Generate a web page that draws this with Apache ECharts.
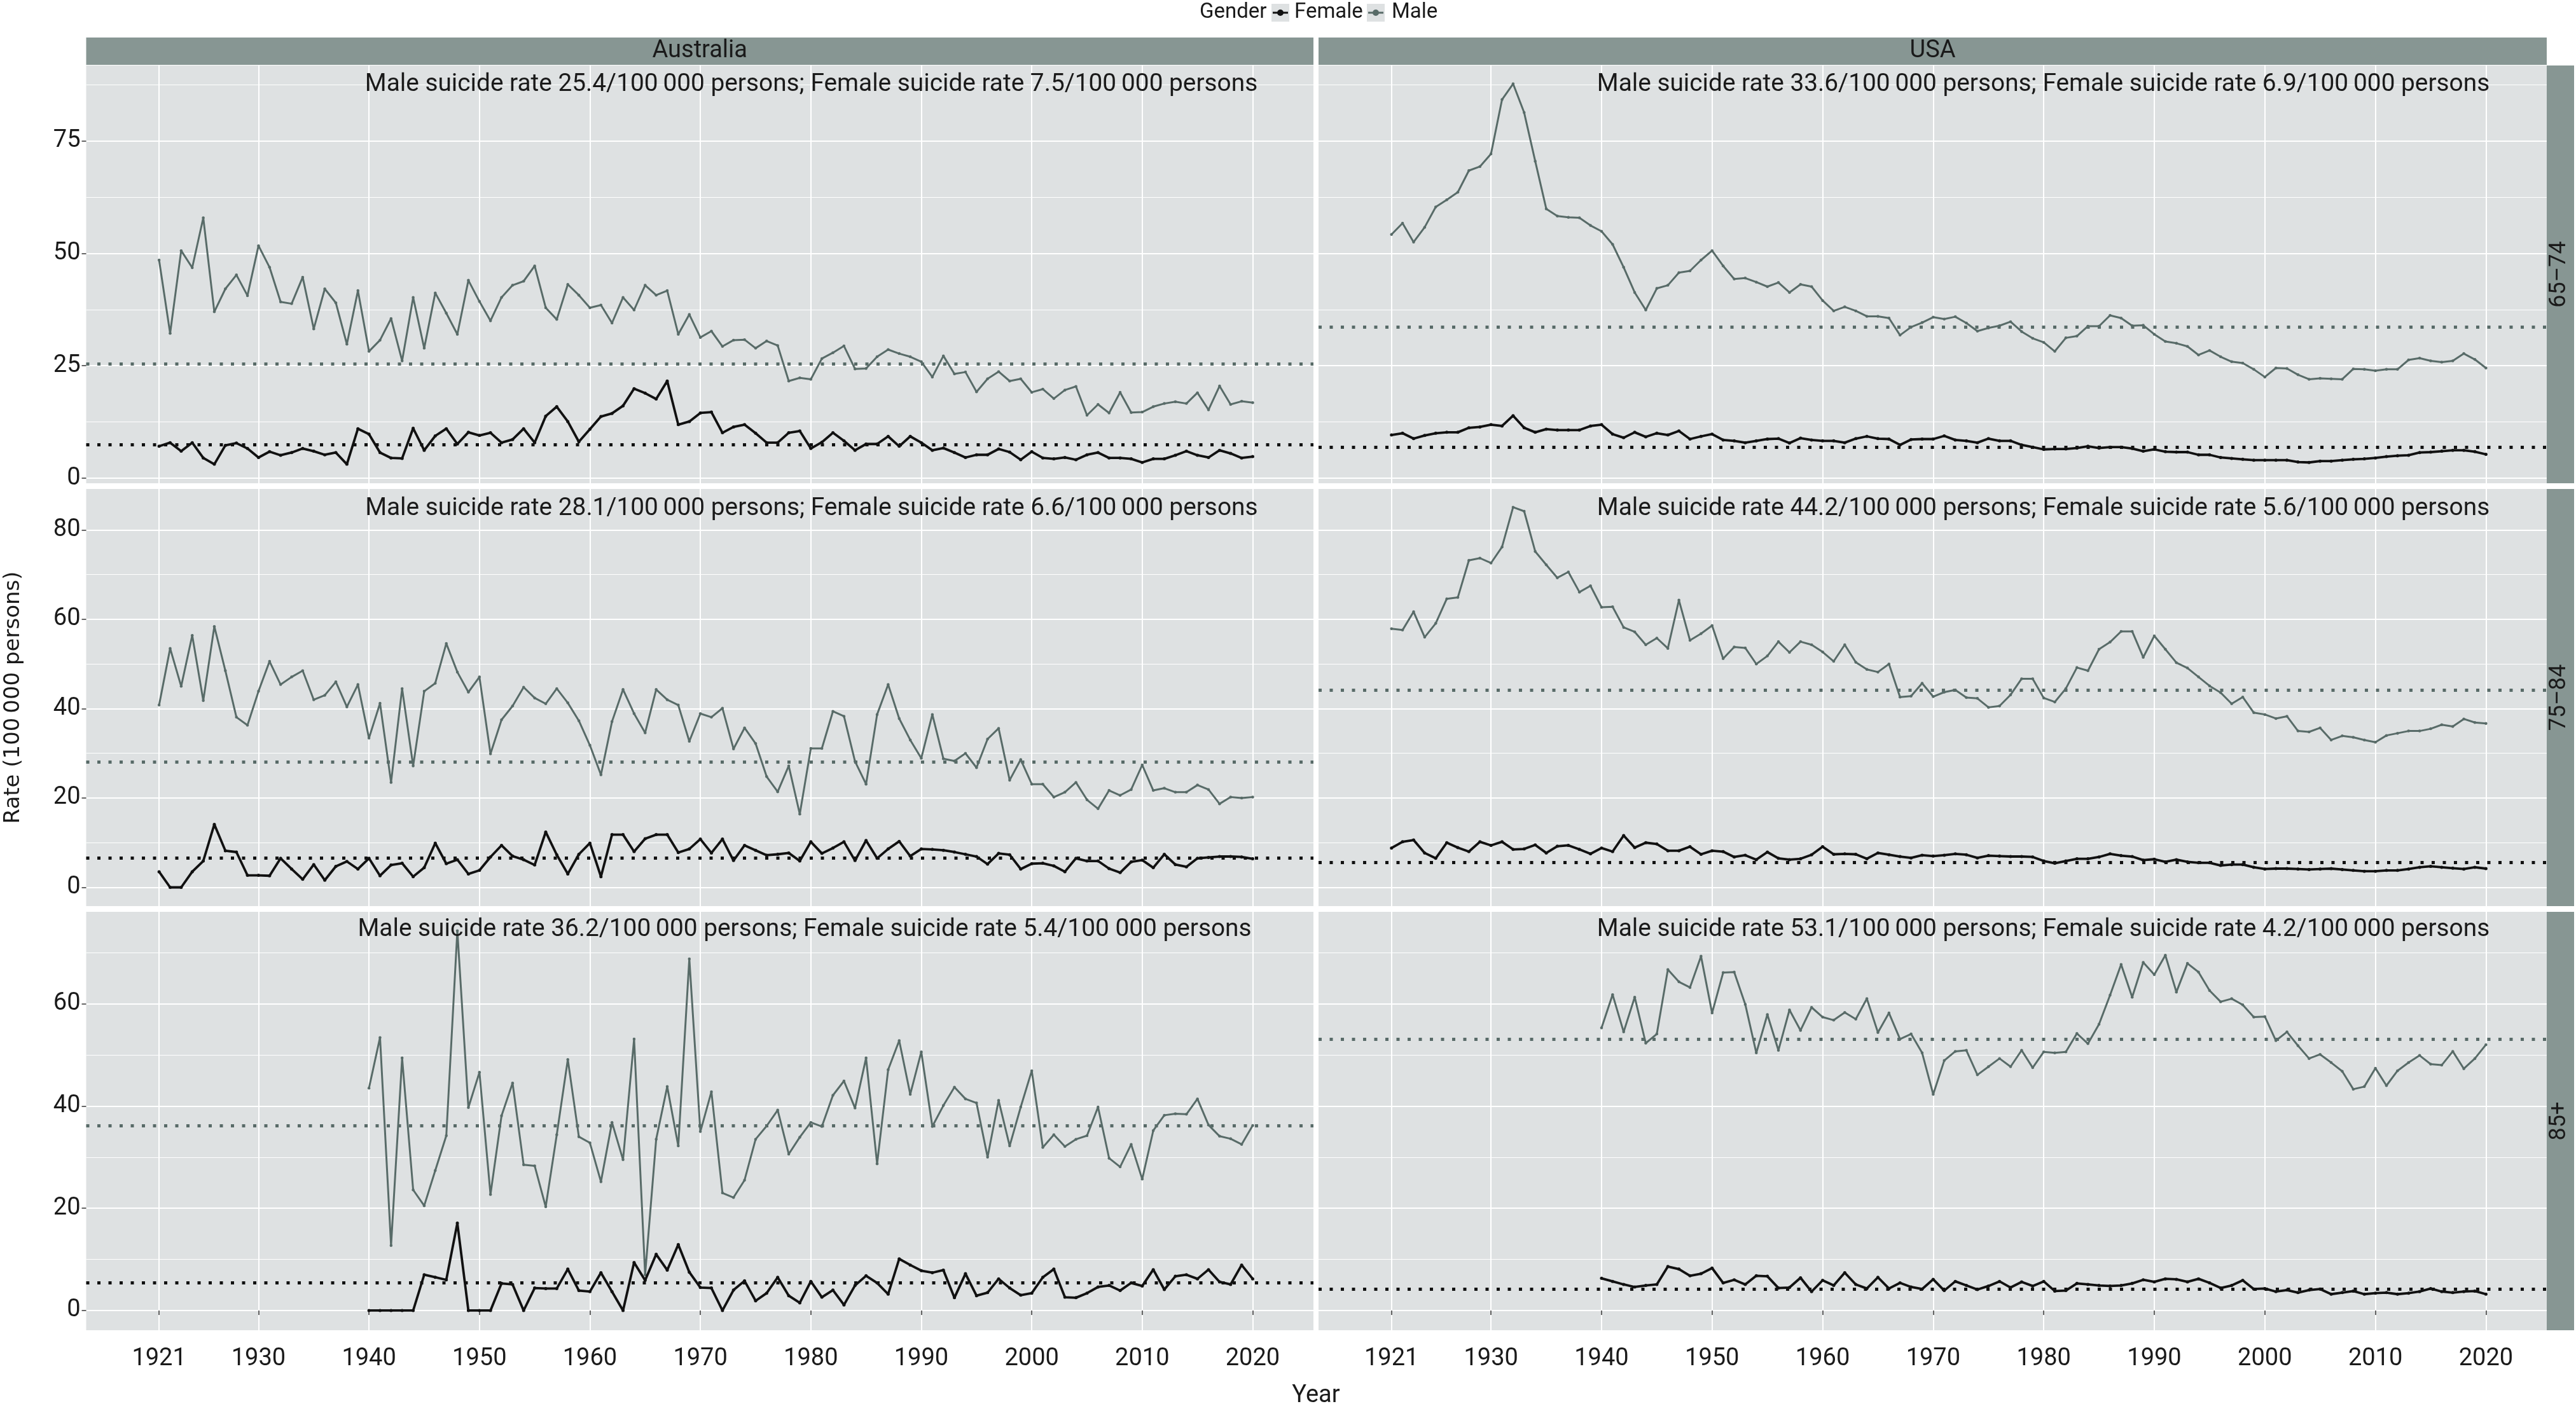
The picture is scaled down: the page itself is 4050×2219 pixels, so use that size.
<!DOCTYPE html>
<html>
<head>
<meta charset="utf-8">
<title>Suicide rates in older adults, Australia and USA</title>
<script src="https://cdn.jsdelivr.net/npm/echarts@6/dist/echarts.min.js"></script>
<style>
  html, body { margin: 0; padding: 0; background: #fff; }
  #chart { width: 4050px; height: 2219px; }
</style>
</head>
<body>
<div id="chart"></div>
<script>
// ---- data: suicide rate per 100 000 persons ----
const countries = ['Australia', 'USA'];
const ageGroups = ['65–74', '75–84', '85+'];
const xTicks = [1921, 1930, 1940, 1950, 1960, 1970, 1980, 1990, 2000, 2010, 2020];
const yTicks = [[0, 25, 50, 75], [0, 20, 40, 60, 80], [0, 20, 40, 60]];
const yMinorTicks = [[12.5, 37.5, 62.5, 87.5], [10, 30, 50, 70], [10, 30, 50, 70]];
const startYear = [1921, 1921, 1940]; // first year of each age row

// 65–74 (1921–2020)
const aus6574Male = [48.5, 32.2, 50.6, 46.8, 57.9, 37.0, 42.1, 45.2, 40.6, 51.7,
  46.9, 39.2, 38.8, 44.7, 33.2, 42.1, 39.0, 29.8, 41.7, 28.2,
  30.7, 35.5, 26.1, 40.2, 28.9, 41.2, 36.7, 32.0, 44.0, 39.3,
  35.0, 40.2, 42.9, 43.8, 47.2, 37.9, 35.3, 43.1, 40.7, 37.9,
  38.5, 34.5, 40.2, 37.4, 42.9, 40.7, 41.7, 32.0, 36.4, 31.3,
  32.7, 29.3, 30.7, 30.8, 28.9, 30.5, 29.5, 21.6, 22.3, 22.0,
  26.6, 27.9, 29.4, 24.3, 24.4, 27.0, 28.6, 27.7, 27.0, 25.9,
  22.5, 27.2, 23.2, 23.6, 19.2, 22.1, 23.7, 21.6, 22.1, 19.1,
  19.8, 17.7, 19.6, 20.4, 14.0, 16.4, 14.5, 19.1, 14.6, 14.7,
  15.9, 16.6, 17.0, 16.6, 19.0, 15.2, 20.5, 16.4, 17.1, 16.8];
const aus6574Female = [7.1, 7.9, 6.0, 7.9, 4.5, 3.1, 7.3, 7.8, 6.6, 4.6,
  5.9, 5.1, 5.7, 6.6, 6.0, 5.2, 5.7, 3.1, 11.0, 9.8,
  5.7, 4.5, 4.4, 11.1, 6.2, 9.4, 11.0, 7.6, 10.2, 9.5,
  10.1, 7.9, 8.6, 11.0, 7.9, 13.8, 15.9, 12.6, 8.1, 10.9,
  13.7, 14.4, 16.1, 19.9, 18.9, 17.6, 21.6, 11.9, 12.6, 14.5,
  14.7, 10.1, 11.4, 11.9, 10.0, 7.9, 7.9, 10.1, 10.5, 6.6,
  8.0, 10.1, 8.3, 6.2, 7.6, 7.6, 9.3, 7.1, 9.3, 7.9,
  6.2, 6.7, 5.7, 4.6, 5.2, 5.2, 6.5, 5.8, 4.1, 5.9,
  4.5, 4.3, 4.6, 4.1, 5.2, 5.7, 4.5, 4.5, 4.3, 3.5,
  4.3, 4.3, 5.1, 6.0, 5.1, 4.6, 6.2, 5.5, 4.5, 4.8];
const usa6574Male = [54.2, 56.7, 52.5, 55.8, 60.3, 61.9, 63.6, 68.4, 69.3, 72.1,
  84.2, 87.7, 81.3, 70.5, 59.9, 58.3, 58.0, 57.9, 56.2, 54.9,
  52.0, 46.9, 41.3, 37.4, 42.2, 42.9, 45.7, 46.1, 48.5, 50.6,
  47.2, 44.3, 44.5, 43.6, 42.6, 43.5, 41.3, 43.1, 42.6, 39.5,
  37.2, 38.1, 37.2, 36.0, 36.0, 35.6, 31.8, 33.6, 34.6, 35.8,
  35.4, 35.9, 34.5, 32.7, 33.4, 33.9, 34.8, 32.6, 31.1, 30.2,
  28.2, 31.2, 31.6, 33.8, 33.8, 36.2, 35.6, 33.9, 34.0, 32.0,
  30.4, 30.0, 29.3, 27.4, 28.4, 27.0, 25.9, 25.6, 24.2, 22.5,
  24.5, 24.4, 23.0, 22.0, 22.2, 22.1, 22.0, 24.3, 24.2, 23.9,
  24.2, 24.2, 26.3, 26.7, 26.1, 25.8, 26.1, 27.7, 26.4, 24.5];
const usa6574Female = [9.6, 10.0, 8.8, 9.5, 10.0, 10.2, 10.2, 11.2, 11.4, 11.9,
  11.6, 13.9, 11.2, 10.2, 10.9, 10.7, 10.7, 10.7, 11.6, 11.9,
  9.8, 9.0, 10.2, 9.2, 10.0, 9.6, 10.5, 8.7, 9.3, 9.8,
  8.5, 8.3, 7.9, 8.3, 8.7, 8.8, 7.8, 8.9, 8.5, 8.3,
  8.3, 7.9, 8.8, 9.3, 8.8, 8.7, 7.4, 8.6, 8.7, 8.7,
  9.4, 8.5, 8.3, 7.9, 8.8, 8.3, 8.3, 7.4, 6.9, 6.4,
  6.5, 6.5, 6.7, 7.1, 6.7, 6.9, 6.9, 6.6, 6.0, 6.4,
  5.9, 5.8, 5.8, 5.2, 5.2, 4.6, 4.4, 4.2, 4.0, 4.0,
  4.0, 4.0, 3.6, 3.5, 3.8, 3.8, 4.0, 4.2, 4.3, 4.5,
  4.8, 5.0, 5.1, 5.7, 5.8, 6.0, 6.2, 6.2, 5.9, 5.3];

// 75–84 (1921–2020)
const aus7584Male = [40.8, 53.5, 45.0, 56.4, 41.8, 58.4, 48.5, 38.1, 36.3, 43.9,
  50.6, 45.4, 47.1, 48.5, 42.0, 43.0, 46.0, 40.4, 45.4, 33.4,
  41.2, 23.5, 44.5, 27.2, 43.9, 45.7, 54.6, 48.2, 43.7, 47.1,
  29.9, 37.5, 40.6, 44.8, 42.4, 41.1, 44.5, 41.3, 37.3, 31.8,
  25.2, 37.1, 44.3, 38.9, 34.6, 44.3, 42.0, 40.8, 32.7, 38.9,
  38.1, 40.1, 31.0, 35.7, 32.2, 24.8, 21.4, 27.2, 16.4, 31.1,
  31.1, 39.4, 38.3, 28.2, 23.1, 38.7, 45.4, 37.8, 33.0, 28.9,
  38.7, 28.8, 28.3, 30.0, 26.8, 33.2, 35.6, 24.0, 28.6, 23.1,
  23.1, 20.2, 21.3, 23.5, 19.6, 17.6, 21.7, 20.6, 21.9, 27.4,
  21.7, 22.2, 21.3, 21.3, 22.9, 21.9, 18.7, 20.2, 20.0, 20.2];
const aus7584Female = [3.5, 0.0, 0.0, 3.5, 5.9, 14.1, 8.2, 7.9, 2.7, 2.7,
  2.6, 6.5, 4.1, 1.8, 5.1, 1.6, 4.7, 5.8, 4.1, 6.5,
  2.6, 5.0, 5.4, 2.4, 4.4, 9.9, 5.3, 6.2, 3.0, 3.8,
  6.8, 9.4, 7.0, 6.2, 5.0, 12.4, 7.3, 3.0, 7.4, 9.9,
  2.4, 11.8, 11.8, 8.0, 10.9, 11.8, 11.8, 7.8, 8.6, 10.8,
  7.7, 10.8, 6.0, 9.4, 8.3, 7.2, 7.4, 7.7, 5.9, 10.2,
  7.6, 8.8, 10.2, 6.0, 10.5, 6.5, 8.6, 10.3, 7.0, 8.6,
  8.5, 8.3, 7.9, 7.4, 6.9, 5.2, 7.6, 7.3, 4.1, 5.3,
  5.4, 4.8, 3.5, 6.5, 5.9, 5.9, 4.2, 3.3, 5.7, 6.1,
  4.4, 7.4, 5.1, 4.6, 6.5, 6.7, 6.9, 6.9, 6.8, 6.4];
const usa7584Male = [57.9, 57.6, 61.7, 56.0, 59.1, 64.6, 64.9, 73.2, 73.7, 72.6,
  76.2, 85.1, 84.2, 75.2, 72.2, 69.3, 70.6, 66.1, 67.5, 62.7,
  62.8, 58.2, 57.2, 54.3, 55.8, 53.5, 64.3, 55.3, 56.8, 58.6,
  51.2, 53.8, 53.6, 50.0, 51.8, 55.0, 52.6, 55.0, 54.3, 52.7,
  50.6, 54.3, 50.4, 48.8, 48.2, 50.0, 42.6, 42.8, 45.7, 42.7,
  43.7, 44.2, 42.5, 42.3, 40.3, 40.6, 43.1, 46.7, 46.7, 42.4,
  41.5, 44.5, 49.2, 48.5, 53.3, 54.9, 57.3, 57.3, 51.5, 56.3,
  53.3, 50.3, 49.1, 47.1, 45.1, 43.6, 41.1, 42.6, 39.1, 38.7,
  37.8, 38.3, 35.0, 34.8, 35.7, 33.0, 33.9, 33.6, 33.0, 32.5,
  34.0, 34.5, 35.0, 35.0, 35.5, 36.4, 36.0, 37.7, 36.9, 36.7];
const usa7584Female = [8.8, 10.2, 10.6, 7.7, 6.5, 10.0, 8.9, 8.0, 10.2, 9.4,
  10.2, 8.5, 8.6, 9.5, 7.7, 9.2, 9.4, 8.5, 7.5, 8.8,
  8.0, 11.6, 8.9, 10.0, 9.7, 8.2, 8.2, 9.1, 7.4, 8.2,
  8.0, 6.8, 7.2, 6.2, 7.9, 6.5, 6.2, 6.4, 7.3, 9.1,
  7.4, 7.5, 7.4, 6.4, 7.7, 7.3, 6.9, 6.6, 7.2, 7.0,
  7.2, 7.5, 7.3, 6.6, 7.1, 7.0, 6.9, 6.9, 6.8, 5.9,
  5.4, 5.9, 6.4, 6.4, 6.8, 7.5, 7.1, 6.9, 6.1, 6.3,
  5.7, 6.2, 5.7, 5.5, 5.5, 4.9, 5.1, 5.1, 4.5, 4.1,
  4.2, 4.2, 4.1, 4.0, 4.1, 4.2, 4.0, 3.8, 3.6, 3.6,
  3.8, 3.8, 4.1, 4.5, 4.7, 4.5, 4.3, 4.1, 4.5, 4.2];

// 85+ (1940–2020)
const aus85Male = [43.5, 53.4, 12.7, 49.4, 23.6, 20.5, 27.4, 34.2, 74.3, 39.7,
  46.6, 22.7, 38.1, 44.5, 28.5, 28.3, 20.3, 34.4, 49.1, 34.0,
  32.8, 25.2, 36.8, 29.5, 53.1, 7.0, 33.5, 43.8, 32.2, 68.8,
  35.0, 42.8, 23.0, 22.1, 25.5, 33.5, 36.1, 39.2, 30.6, 33.9,
  36.8, 36.0, 42.1, 44.9, 39.6, 49.4, 28.7, 47.1, 52.8, 42.3,
  50.6, 36.0, 40.1, 43.7, 41.4, 40.6, 30.0, 41.1, 32.2, 39.8,
  46.9, 31.9, 34.4, 32.1, 33.5, 34.2, 39.8, 29.8, 28.1, 32.5,
  25.7, 35.2, 38.2, 38.5, 38.4, 41.4, 36.3, 34.1, 33.6, 32.5, 36.2];
const aus85Female = [0, 0, 0, 0, 0, 7.0, 6.5, 6.0, 17.1, 0,
  0, 0, 5.3, 5.1, 0, 4.4, 4.3, 4.3, 8.1, 3.9,
  3.7, 7.4, 3.7, 0, 9.4, 5.9, 11.0, 7.9, 12.9, 7.5,
  4.5, 4.4, 0, 4.0, 5.8, 1.9, 3.4, 6.5, 2.9, 1.5,
  5.7, 2.6, 4.0, 1.1, 4.9, 6.8, 5.4, 3.2, 10.1, 8.9,
  7.8, 7.4, 7.9, 2.5, 7.2, 2.9, 3.5, 6.2, 4.4, 3.0,
  3.4, 6.5, 8.1, 2.6, 2.5, 3.4, 4.6, 4.9, 3.9, 5.4,
  4.8, 8.0, 4.1, 6.7, 7.0, 6.2, 8.0, 5.6, 5.1, 8.9, 6.2];
const usa85Male = [55.3, 61.8, 54.5, 61.3, 52.3, 54.1, 66.7, 64.3, 63.2, 69.3,
  58.2, 66.1, 66.2, 59.9, 50.4, 57.9, 50.9, 58.8, 54.8, 59.3,
  57.4, 56.8, 58.3, 57.0, 61.0, 54.4, 58.2, 53.1, 54.1, 50.4,
  42.3, 48.9, 50.7, 50.9, 46.1, 47.7, 49.3, 47.7, 50.9, 47.5,
  50.6, 50.4, 50.6, 54.2, 52.2, 56.0, 61.7, 67.7, 61.3, 68.1,
  65.7, 69.5, 62.3, 67.9, 66.2, 62.6, 60.4, 61.0, 59.8, 57.4,
  57.5, 52.8, 54.5, 51.8, 49.3, 50.1, 48.5, 46.8, 43.3, 43.8,
  47.4, 44.0, 46.9, 48.5, 49.9, 48.2, 48.0, 50.7, 47.3, 49.3, 52.0];
const usa85Female = [6.3, 5.7, 5.1, 4.6, 4.9, 5.1, 8.6, 8.1, 6.8, 7.2,
  8.3, 5.4, 6.0, 5.1, 6.8, 6.7, 4.4, 4.5, 6.4, 3.7,
  5.9, 4.9, 7.4, 5.1, 4.3, 6.5, 4.3, 5.4, 4.6, 4.2,
  6.1, 3.9, 5.7, 4.9, 4.1, 4.8, 5.7, 4.5, 5.6, 4.8,
  5.7, 3.8, 3.9, 5.3, 5.1, 4.9, 4.8, 4.9, 5.3, 6.0,
  5.6, 6.2, 6.1, 5.6, 6.2, 5.4, 4.4, 4.9, 5.9, 4.2,
  4.3, 3.7, 4.0, 3.5, 4.0, 4.2, 3.2, 3.5, 3.8, 3.2,
  3.4, 3.5, 3.2, 3.4, 3.7, 4.3, 3.7, 3.5, 3.7, 3.8, 3.2];

// mean rates (dotted lines), panel order: row by row, Australia then USA
const maleMeans = [25.4, 33.6, 28.1, 44.2, 36.2, 53.1];
const femaleMeans = [7.5, 6.9, 6.6, 5.6, 5.4, 4.2];
const notes = [
  'Male suicide rate 25.4/100\u2009000 persons; Female suicide rate 7.5/100\u2009000 persons',
  'Male suicide rate 33.6/100\u2009000 persons; Female suicide rate 6.9/100\u2009000 persons',
  'Male suicide rate 28.1/100\u2009000 persons; Female suicide rate 6.6/100\u2009000 persons',
  'Male suicide rate 44.2/100\u2009000 persons; Female suicide rate 5.6/100\u2009000 persons',
  'Male suicide rate 36.2/100\u2009000 persons; Female suicide rate 5.4/100 000 persons',
  'Male suicide rate 53.1/100\u2009000 persons; Female suicide rate 4.2/100\u2009000 persons'
];

const maleData = [aus6574Male, usa6574Male, aus7584Male, usa7584Male, aus85Male, usa85Male];
const femaleData = [aus6574Female, usa6574Female, aus7584Female, usa7584Female, aus85Female, usa85Female];

// ---- layout / style ----
const FONT = 'Roboto';
const TEXT = '#1a1a1a';
const STRIP = '#879693';
const PANEL = '#dee1e2';
const MALE = '#586b68';
const FEMALE = '#111111';

const colLeft = [135.5, 2073];
const colWidth = [1929.5, 1931];
const rowTop = [103, 769, 1434];
const rowHeight = [657, 656, 658];
const yMin = [-1.13, -4.2, -3.86];
const yMax = [91.77, 89.18, 77.99];
const xMin = 1914.4, xMax = 2025.5;
const noteX = [[1275.5, 3212.5], [1275.8, 3212.5], [1265, 3212.5]];
const noteY = [133, 800, 1462];

const toPairs = (arr, start) => arr.map((v, i) => [start + i, v]);

const grids = [], xAxes = [], yAxes = [], series = [], graphics = [];

for (let r = 0; r < 3; r++) {
  for (let c = 0; c < 2; c++) {
    const k = r * 2 + c;
    grids.push({
      left: colLeft[c], top: rowTop[r], width: colWidth[c], height: rowHeight[r],
      show: true, backgroundColor: PANEL, borderWidth: 0,
      containLabel: false, outerBoundsMode: 'none'
    });
    xAxes.push({
      gridIndex: k, type: 'value', min: xMin, max: xMax,
      axisLine: { show: false },
      axisTick: { show: r === 2, customValues: xTicks, length: 7, lineStyle: { color: '#333', width: 1.5 } },
      axisLabel: {
        show: r === 2, customValues: xTicks, margin: 26,
        fontFamily: FONT, fontSize: 38, color: TEXT,
        formatter: v => String(v)
      },
      splitLine: { show: true, customValues: xTicks, lineStyle: { color: '#ffffff', width: 2 } }
    });
    // major y axis
    yAxes.push({
      gridIndex: k, type: 'value', min: yMin[r], max: yMax[r], position: 'left',
      axisLine: { show: false },
      axisTick: { show: c === 0, customValues: yTicks[r], length: 7, lineStyle: { color: '#333', width: 1.5 } },
      axisLabel: {
        show: c === 0, customValues: yTicks[r], margin: 9,
        fontFamily: FONT, fontSize: 38, color: TEXT,
        formatter: v => String(v)
      },
      splitLine: { show: true, customValues: yTicks[r], lineStyle: { color: '#ffffff', width: 2.2 } }
    });
    // minor grid lines
    yAxes.push({
      gridIndex: k, type: 'value', min: yMin[r], max: yMax[r], position: 'right',
      axisLine: { show: false },
      axisTick: { show: false, customValues: yMinorTicks[r] },
      axisLabel: { show: false, customValues: yMinorTicks[r] },
      splitLine: { show: true, customValues: yMinorTicks[r], lineStyle: { color: '#ffffff', width: 1.1 } }
    });

    const start = startYear[r];
    series.push({
      name: 'Male', type: 'line', xAxisIndex: k, yAxisIndex: 2 * k,
      data: toPairs(maleData[k], start),
      symbol: 'circle', symbolSize: 4.5, showSymbol: true,
      lineStyle: { color: MALE, width: 3 }, itemStyle: { color: MALE },
      emphasis: { disabled: true }, z: 3,
      markLine: {
        silent: true, symbol: 'none', label: { show: false },
        lineStyle: { color: MALE, width: 5, type: [5, 12.5] },
        emphasis: { disabled: true },
        data: [{ yAxis: maleMeans[k] }]
      }
    });
    series.push({
      name: 'Female', type: 'line', xAxisIndex: k, yAxisIndex: 2 * k,
      data: toPairs(femaleData[k], start),
      symbol: 'circle', symbolSize: 5, showSymbol: true,
      lineStyle: { color: FEMALE, width: 3.8 }, itemStyle: { color: FEMALE },
      emphasis: { disabled: true }, z: 4,
      markLine: {
        silent: true, symbol: 'none', label: { show: false },
        lineStyle: { color: FEMALE, width: 5, type: [5, 12.5] },
        emphasis: { disabled: true },
        data: [{ yAxis: femaleMeans[k] }]
      }
    });

    // annotation inside panel
    graphics.push({
      type: 'text', x: noteX[r][c], y: noteY[r], z: 10,
      style: { text: notes[k], fill: TEXT, fontFamily: FONT, fontSize: 38.8,
               align: 'center', verticalAlign: 'middle' }
    });
  }
}

// top strips (country)
for (let c = 0; c < 2; c++) {
  graphics.push({ type: 'rect', shape: { x: colLeft[c], y: 59, width: colWidth[c], height: 43 },
                  style: { fill: STRIP } });
  graphics.push({ type: 'text', x: colLeft[c] + colWidth[c] / 2, y: 80,
                  style: { text: countries[c], fill: TEXT, fontFamily: FONT, fontSize: 38,
                           align: 'center', verticalAlign: 'middle' } });
}
// right strips (age group)
for (let r = 0; r < 3; r++) {
  graphics.push({ type: 'rect', shape: { x: 4004, y: rowTop[r], width: 43, height: rowHeight[r] },
                  style: { fill: STRIP } });
  graphics.push({ type: 'text', x: 4024, y: rowTop[r] + rowHeight[r] / 2, rotation: Math.PI / 2,
                  style: { text: ageGroups[r], fill: TEXT, fontFamily: FONT, fontSize: 36,
                           align: 'center', verticalAlign: 'middle' } });
}

// axis titles
graphics.push({ type: 'text', x: 2069, y: 2195,
                style: { text: 'Year', fill: TEXT, fontFamily: FONT, fontSize: 38,
                         align: 'center', verticalAlign: 'middle' } });
graphics.push({ type: 'text', x: 21, y: 1097, rotation: Math.PI / 2,
                style: { text: 'Rate (100\u2009000 persons)', fill: TEXT, fontFamily: 'DejaVu Sans', fontSize: 34,
                         align: 'center', verticalAlign: 'middle' } });

// legend
const legendKey = (x, color) => ({
  type: 'group', children: [
    { type: 'rect', shape: { x: x, y: 6, width: 28, height: 28 }, style: { fill: PANEL } },
    { type: 'line', shape: { x1: x + 2, y1: 20, x2: x + 26, y2: 20 }, style: { stroke: color, lineWidth: 3 } },
    { type: 'circle', shape: { cx: x + 14, cy: 20, r: 5 }, style: { fill: color } }
  ]
});
graphics.push({ type: 'text', x: 1886, y: 20,
                style: { text: 'Gender', fill: TEXT, fontFamily: FONT, fontSize: 33,
                         align: 'left', verticalAlign: 'middle' } });
graphics.push(legendKey(1999, FEMALE));
graphics.push({ type: 'text', x: 2035, y: 20,
                style: { text: 'Female', fill: TEXT, fontFamily: FONT, fontSize: 33,
                         align: 'left', verticalAlign: 'middle' } });
graphics.push(legendKey(2149, MALE));
graphics.push({ type: 'text', x: 2188, y: 20,
                style: { text: 'Male', fill: TEXT, fontFamily: FONT, fontSize: 33,
                         align: 'left', verticalAlign: 'middle' } });

const chart = echarts.init(document.getElementById('chart'), null, { renderer: 'canvas', width: 4050, height: 2219 });
chart.setOption({
  animation: false,
  backgroundColor: '#ffffff',
  grid: grids,
  xAxis: xAxes,
  yAxis: yAxes,
  series: series,
  graphic: graphics
});
</script>
</body>
</html>
